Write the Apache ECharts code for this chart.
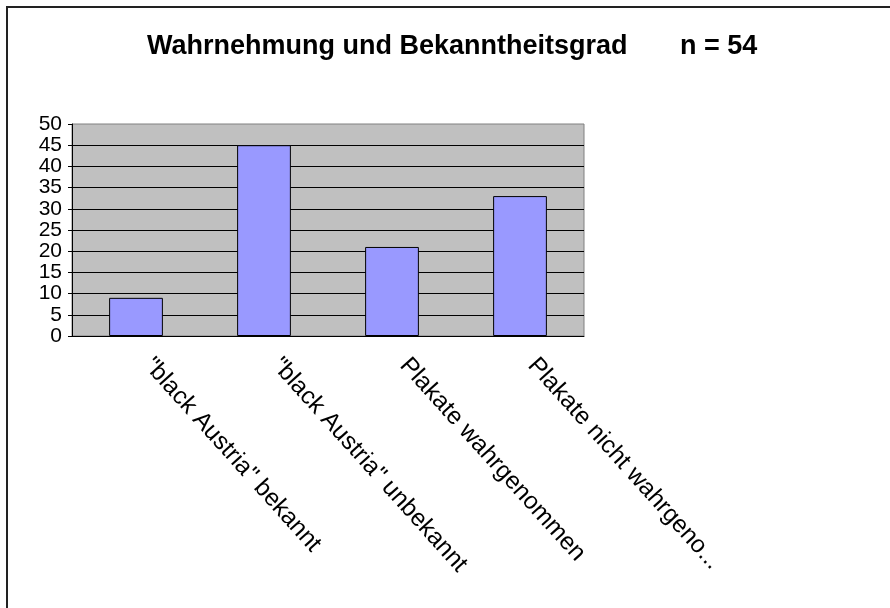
<!DOCTYPE html>
<html>
<head>
<meta charset="utf-8">
<title>Wahrnehmung und Bekanntheitsgrad</title>
<script src="https://cdn.jsdelivr.net/npm/echarts@6/dist/echarts.min.js"></script>
<style>
  html, body { margin: 0; padding: 0; background: #fff; }
  #chart { width: 890px; height: 608px; }
</style>
</head>
<body>
<div id="chart"></div>
<script>
var titleText = 'Wahrnehmung und Bekanntheitsgrad       n = 54';
var categories = ['"black Austria" bekannt', '"black Austria" unbekannt', 'Plakate wahrgenommen', 'Plakate nicht wahrgenommen'];
var counts = [9, 45, 21, 33];
var yMin = 0;
var yMax = 50;
var yStep = 5;

(function () {
  var myChart = echarts.init(document.getElementById('chart'));
  var font = 'Arial, "Liberation Sans", sans-serif';

  // last label is cut off like in the original
  var catData = categories.map(function (c, i) {
    if (i === categories.length - 1) {
      return { value: c, textStyle: { width: 286, overflow: 'truncate', ellipsis: '...' } };
    }
    return c;
  });

  var option = {
    animation: false,
    backgroundColor: '#fff',
    // outer frame
    graphic: [{
      type: 'rect',
      shape: { x: 7, y: 7, width: 1000, height: 1000 },
      style: { fill: 'none', stroke: '#222', lineWidth: 2 },
      silent: true
    }],
    title: {
      text: titleText,
      left: 142,
      top: 28,
      textStyle: {
        fontFamily: font,
        fontSize: 27,
        fontWeight: 'bold',
        color: '#000'
      }
    },
    grid: {
      left: 72,
      right: 306,
      top: 124,
      bottom: 272,
      show: true,
      backgroundColor: '#c0c0c0',
      borderColor: '#808080',
      borderWidth: 1
    },
    xAxis: {
      type: 'category',
      data: catData,
      axisLine: { lineStyle: { color: '#000', width: 1 } },
      axisTick: { length: 5, lineStyle: { color: '#000' } },
      axisLabel: {
        rotate: -48,
        interval: 0,
        margin: 12,
        padding: [0, 0, 0, 18],
        color: '#000',
        fontFamily: font,
        fontSize: 24.5
      }
    },
    yAxis: {
      type: 'value',
      min: yMin,
      max: yMax,
      interval: yStep,
      axisLine: { show: true, lineStyle: { color: '#000', width: 1 } },
      axisTick: { show: true, length: 4, lineStyle: { color: '#000' } },
      axisLabel: {
        margin: 10,
        color: '#000',
        fontFamily: font,
        fontSize: 21
      },
      splitLine: { showMaxLine: false, lineStyle: { color: '#000', width: 1 } }
    },
    series: [{
      type: 'bar',
      data: counts,
      barWidth: '42%',
      itemStyle: {
        color: '#9999ff',
        borderColor: '#000',
        borderWidth: 1
      }
    }]
  };
  myChart.setOption(option);
})();
</script>
</body>
</html>
